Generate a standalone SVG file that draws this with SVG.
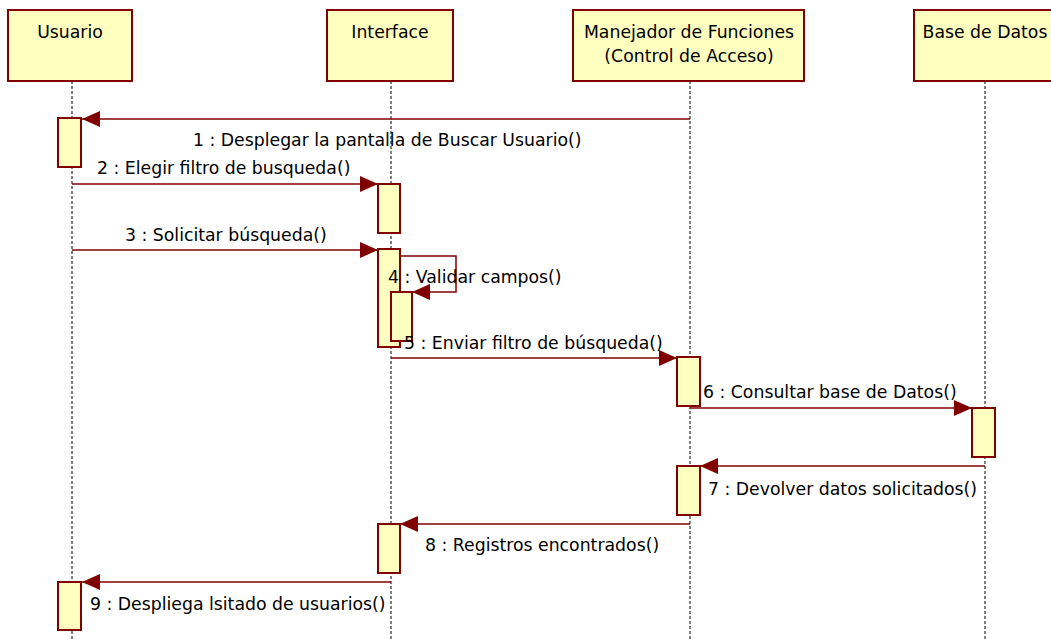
<svg xmlns="http://www.w3.org/2000/svg" width="1051" height="639" viewBox="0 0 1051 639">
<style>
.box{fill:#FFFFC0;stroke:#800000;stroke-width:2}
.act{fill:#FFFFC0;stroke:#800000;stroke-width:2}
.life{stroke:#000;stroke-width:1;stroke-dasharray:3,2}
.msg{stroke:#800000;stroke-width:1.5;fill:none}
text{font-family:"DejaVu Sans","Liberation Sans",sans-serif;font-size:17.3px;fill:#000}
.c{text-anchor:middle}
</style>
<defs>
<marker id="ah" viewBox="0 0 18 16" refX="18" refY="8" markerWidth="18" markerHeight="16" markerUnits="userSpaceOnUse" orient="auto">
<path d="M0,0 L18,8 L0,16 Z" fill="#800000"/>
</marker>
</defs>
<g id="lifelines">
<line class="life" x1="72" y1="81" x2="72" y2="639"/>
<line class="life" x1="391" y1="81" x2="391" y2="639"/>
<line class="life" x1="690" y1="81" x2="690" y2="639"/>
<line class="life" x1="985" y1="81" x2="985" y2="639"/>
</g>
<g id="usuario">
<rect class="box" x="8" y="10" width="124" height="71"/>
<text class="c" x="70" y="38">Usuario</text>
</g>
<g id="interface">
<rect class="box" x="327" y="10" width="126" height="71"/>
<text class="c" x="390" y="38">Interface</text>
</g>
<g id="manejador">
<rect class="box" x="573" y="10" width="231" height="71"/>
<text class="c" x="689" y="38">Manejador de Funciones</text>
<text class="c" x="689" y="62">(Control de Acceso)</text>
</g>
<g id="basedatos">
<rect class="box" x="914" y="10" width="150" height="71"/>
<text class="c" x="985" y="38">Base de Datos</text>
</g>
<g id="activations">
<rect class="act" x="58" y="118" width="23" height="49"/>
<rect class="act" x="378" y="184" width="22" height="49"/>
<rect class="act" x="378" y="249" width="22" height="98"/>
<rect class="act" x="391" y="292" width="21" height="49"/>
<rect class="act" x="677" y="357" width="23" height="49"/>
<rect class="act" x="972" y="408" width="23" height="49"/>
<rect class="act" x="677" y="466" width="23" height="49"/>
<rect class="act" x="378" y="524" width="22" height="49"/>
<rect class="act" x="58" y="582" width="23" height="48"/>
</g>
<g id="connectors">
<line class="msg" x1="690" y1="119" x2="82" y2="119" marker-end="url(#ah)"/>
<line class="msg" x1="72" y1="184" x2="378" y2="184" marker-end="url(#ah)"/>
<line class="msg" x1="72" y1="250" x2="378" y2="250" marker-end="url(#ah)"/>
<polyline class="msg" points="400,256 456,256 456,292 412,292" marker-end="url(#ah)"/>
<line class="msg" x1="391" y1="358" x2="677" y2="358" marker-end="url(#ah)"/>
<line class="msg" x1="690" y1="408" x2="972" y2="408" marker-end="url(#ah)"/>
<line class="msg" x1="985" y1="466" x2="700" y2="466" marker-end="url(#ah)"/>
<line class="msg" x1="690" y1="524" x2="400" y2="524" marker-end="url(#ah)"/>
<line class="msg" x1="391" y1="582" x2="82" y2="582" marker-end="url(#ah)"/>
</g>
<g id="labels">
<text x="193" y="146">1 : Desplegar la pantalla de Buscar Usuario()</text>
<text x="97" y="174">2 : Elegir filtro de busqueda()</text>
<text x="125" y="241">3 : Solicitar búsqueda()</text>
<text x="388" y="283">4 : Validar campos()</text>
<text x="404" y="349">5 : Enviar filtro de búsqueda()</text>
<text x="703" y="398">6 : Consultar base de Datos()</text>
<text x="708" y="495">7 : Devolver datos solicitados()</text>
<text x="425" y="551">8 : Registros encontrados()</text>
<text x="90" y="610">9 : Despliega lsitado de usuarios()</text>
</g>
</svg>
